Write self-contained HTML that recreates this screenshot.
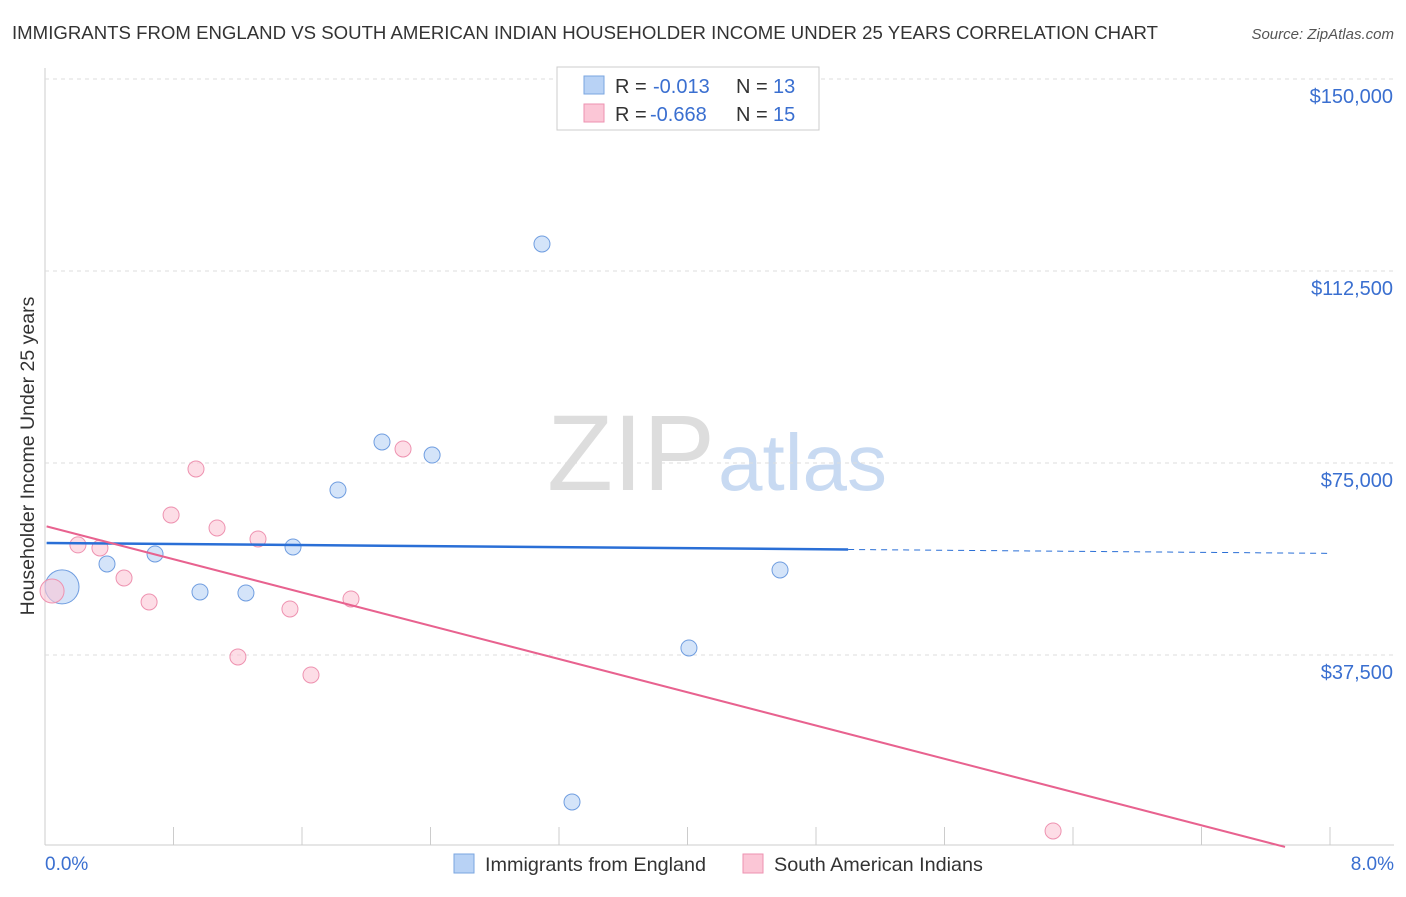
<!DOCTYPE html>
<html><head><meta charset="utf-8"><style>
body{margin:0;background:#fff;font-family:"Liberation Sans",sans-serif;}
svg text{font-family:"Liberation Sans",sans-serif;}
</style></head><body>
<svg id="chart" width="1406" height="892">
<text x="12" y="39" font-size="18.6" fill="#333" textLength="1146">IMMIGRANTS FROM ENGLAND VS SOUTH AMERICAN INDIAN HOUSEHOLDER INCOME UNDER 25 YEARS CORRELATION CHART</text>
<text x="1394" y="39" font-size="15" fill="#555" font-style="italic" text-anchor="end">Source: ZipAtlas.com</text>
<text x="715" y="490" font-size="108" fill="#ddd" text-anchor="end" font-family="Liberation Serif,serif">ZIP</text>
<text x="718" y="490" font-size="80" fill="#c8daf2">atlas</text>
<text transform="translate(34,456) rotate(-90)" font-size="19.5" fill="#333" text-anchor="middle">Householder Income Under 25 years</text>
<g id="grid"></g><g id="marks"></g>
<g>
<rect x="557" y="67" width="262" height="63" fill="#fff" stroke="#ccc"/>
<rect x="584" y="76" width="20" height="18" fill="#b8d2f5" stroke="#7aa6e0"/>
<rect x="584" y="104" width="20" height="18" fill="#fbc6d6" stroke="#ee92b0"/>
<text x="615" y="93" font-size="20" fill="#333">R =</text><text x="653" y="93" font-size="20" fill="#3a6fd0">-0.013</text>
<text x="736" y="93" font-size="20" fill="#333">N =</text><text x="773" y="93" font-size="20" fill="#3a6fd0">13</text>
<text x="615" y="121" font-size="20" fill="#333">R =</text><text x="650" y="121" font-size="20" fill="#3a6fd0">-0.668</text>
<text x="736" y="121" font-size="20" fill="#333">N =</text><text x="773" y="121" font-size="20" fill="#3a6fd0">15</text>
</g>
<text x="45" y="870" font-size="19" fill="#3a6fd0">0.0%</text>
<text x="1394" y="870" font-size="19" fill="#3a6fd0" text-anchor="end">8.0%</text>
<rect x="454" y="854" width="20" height="19" fill="#b8d2f5" stroke="#7aa6e0"/>
<text x="485" y="871" font-size="19.8" fill="#333">Immigrants from England</text>
<rect x="743" y="854" width="20" height="19" fill="#fbc6d6" stroke="#ee92b0"/>
<text x="774" y="871" font-size="19.8" fill="#333">South American Indians</text>
</svg>
<script>
const yTicks=[37500,75000,112500,150000];
const yTickLabels=["$37,500","$75,000","$112,500","$150,000"];
const xTicks=[0.8,1.6,2.4,3.2,4.0,4.8,5.6,6.4,7.2,8.0];
const blueX=[0.106,0.386,0.685,0.965,1.251,1.544,1.824,2.098,2.410,3.094,3.281,4.009,4.576];
const blueY=[50794,55284,57236,49810,49617,58600,69730,79110,76560,117780,8800,38870,54110];
const blueR=[17,8,8,8,8,8,8,8,8,8,8,8,8];
const pinkX=[0.044,0.205,0.342,0.492,0.648,0.785,0.940,1.071,1.201,1.326,1.525,1.656,1.905,2.229,6.276];
const pinkY=[50000,59000,58400,52540,47850,64850,73830,62310,37120,60160,46490,33600,48440,77740,3130];
const pinkR=[12,8,8,8,8,8,8,8,8,8,8,8,8,8,8];
const blueLine=[59380,-254,5.0,7.99];
const pinkLine=[62700,-8120,7.72];
const X=v=>45+v/0.8*128.5, Y=v=>79+(150000-v)/37500*192;
const NS="http://www.w3.org/2000/svg";
function mk(p,t,a){const e=document.createElementNS(NS,t);for(const k in a)e.setAttribute(k,a[k]);p.appendChild(e);return e;}
const g=document.getElementById('grid'),m=document.getElementById('marks');
let ax=mk(g,'line',{x1:45,y1:68,x2:45,y2:845,stroke:'#ccc'});


let bx=mk(g,'line',{x1:45,y1:845,x2:1394,y2:845,stroke:'#ccc'});


yTicks.forEach((v,i)=>{
 const l=mk(g,'line',{x1:45,y1:Y(v),x2:1394,y2:Y(v),stroke:'#ddd','stroke-dasharray':'4,4'});
 
 
 const t=mk(g,'text',{x:1393,y:Y(v)+24,'font-size':20,fill:'#3a6fd0','text-anchor':'end'});t.textContent=yTickLabels[i];
 
 
});
xTicks.forEach(v=>{const l=mk(g,'line',{x1:X(v),y1:827,x2:X(v),y2:845,stroke:'#ccc'});
 
 });
function dot(x,y,r,f,s,n){const c=mk(m,'circle',{cx:X(x),cy:Y(y),r:r,fill:f,'fill-opacity':0.6,stroke:s,'stroke-width':1});
 
 }
blueX.forEach((x,i)=>dot(x,blueY[i],blueR[i],'#b8d2f5','#6f9de0','point-england'));
pinkX.forEach((x,i)=>dot(x,pinkY[i],pinkR[i],'#fbc6d6','#ee92b0','point-sa-indians'));
const bl=v=>blueLine[0]+blueLine[1]*v;
let l1=mk(m,'line',{x1:X(0.01),y1:Y(bl(0.01)),x2:X(blueLine[2]),y2:Y(bl(blueLine[2])),stroke:'#2a6fd6','stroke-width':2.5});


let l2=mk(m,'line',{x1:X(blueLine[2]),y1:Y(bl(blueLine[2])),x2:X(blueLine[3]),y2:Y(bl(blueLine[3])),stroke:'#2a6fd6','stroke-width':1,'stroke-dasharray':'6,5'});


const pl=v=>pinkLine[0]+pinkLine[1]*v;
let l3=mk(m,'line',{x1:X(0.01),y1:Y(pl(0.01)),x2:X(pinkLine[2]),y2:Y(pl(pinkLine[2])),stroke:'#e8628f','stroke-width':2});


</script>
</body></html>
